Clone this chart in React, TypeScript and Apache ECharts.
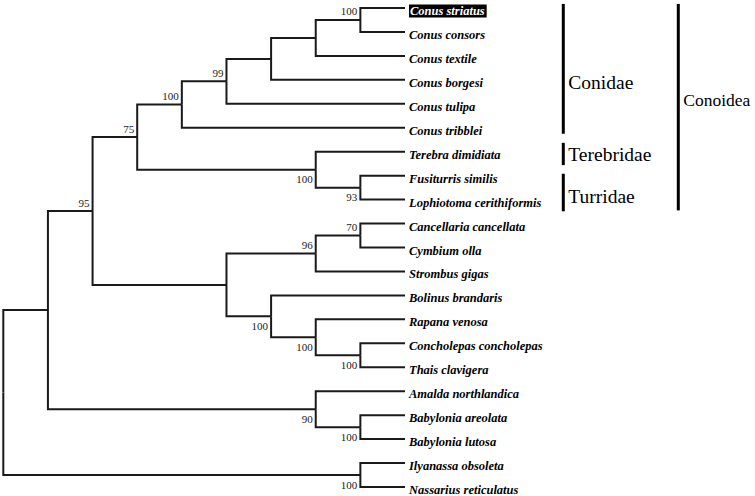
import React, { useEffect, useRef } from "react";
import * as echarts from "echarts";

// Taxa, top to bottom
const leafNames = [
  "Conus striatus",
  "Conus consors",
  "Conus textile",
  "Conus borgesi",
  "Conus tulipa",
  "Conus tribblei",
  "Terebra dimidiata",
  "Fusiturris similis",
  "Lophiotoma cerithiformis",
  "Cancellaria cancellata",
  "Cymbium olla",
  "Strombus gigas",
  "Bolinus brandaris",
  "Rapana venosa",
  "Concholepas concholepas",
  "Thais clavigera",
  "Amalda northlandica",
  "Babylonia areolata",
  "Babylonia lutosa",
  "Ilyanassa obsoleta",
  "Nassarius reticulatus",
];

// Topology with bootstrap support (Newick)
const newick =
  "(((((((((Conus striatus,Conus consors)100,Conus textile),Conus borgesi),Conus tulipa)99,Conus tribblei)100," +
  "(Terebra dimidiata,(Fusiturris similis,Lophiotoma cerithiformis)93)100)75," +
  "(((Cancellaria cancellata,Cymbium olla)70,Strombus gigas)96," +
  "(Bolinus brandaris,(Rapana venosa,(Concholepas concholepas,Thais clavigera)100)100)100))95," +
  "(Amalda northlandica,(Babylonia areolata,Babylonia lutosa)100)90)," +
  "(Ilyanassa obsoleta,Nassarius reticulatus)100);";

const highlightedTaxa = ["Conus striatus"];

// Clade annotations (positions in leaf-row units)
const cladeNames = ["Conidae", "Terebridae", "Turridae", "Conoidea"];
const cladeStart = [-0.17, 5.63, 6.92, -0.17];
const cladeEnd = [5.25, 6.56, 8.49, 8.45];
const cladeLabelRow = [3.12, 6.12, 7.86, 3.83];
const cladeColumn = [0, 0, 0, 1];

type TNode = { name?: string; support?: string; children: TNode[]; h: number; y: number };

function parseNewick(s: string): TNode {
  let i = 0;
  const readLabel = () => {
    const st = i;
    while (i < s.length && !",();".includes(s[i])) i++;
    return s.slice(st, i).trim();
  };
  const node = (): TNode => {
    if (s[i] === "(") {
      i++;
      const children = [node()];
      while (s[i] === ",") {
        i++;
        children.push(node());
      }
      i++;
      const lab = readLabel();
      return { children, support: lab, h: 0, y: 0 };
    }
    return { name: readLabel(), children: [], h: 0, y: 0 };
  };
  return node();
}

function layout(n: TNode) {
  if (n.children.length === 0) {
    n.h = 0;
    n.y = leafNames.indexOf(n.name as string);
    return;
  }
  n.children.forEach(layout);
  n.h = Math.max(...n.children.map((c) => c.h)) + 1;
  n.y = n.children.reduce((a, c) => a + c.y, 0) / n.children.length;
}

const SERIF = "'Times New Roman', 'Liberation Serif', serif";

export default function App() {
  const ref = useRef<HTMLDivElement>(null);
  useEffect(() => {
    document.body.style.margin = "0";
    if (!ref.current) return;
    const chart = echarts.init(ref.current, undefined, { renderer: "svg" });

    const root = parseNewick(newick);
    layout(root);
    const edges: number[][] = [];
    const supports: { h: number; y: number; up: boolean; text: string }[] = [];
    const walk = (n: TNode, parent: TNode | null) => {
      if (parent) {
        edges.push([n.h, n.y, parent.h, parent.y]);
        if (n.support) supports.push({ h: n.h, y: n.y, up: n.y < parent.y, text: n.support });
      }
      n.children.forEach((c) => walk(c, n));
    };
    walk(root, null);
    const rootH = root.h;

    const cladeBarOffset = [158.3, 273.3];
    const cladeFont = [19.5, 17.5];

    chart.setOption({
      animation: false,
      backgroundColor: "#fff",
      grid: { left: 3.3, right: 350, top: 8, bottom: 9 },
      xAxis: { type: "value", inverse: true, min: 0, max: rootH, show: false },
      yAxis: { type: "value", inverse: true, min: 0, max: leafNames.length - 1, show: false },
      series: [
        {
          type: "custom",
          data: edges,
          renderItem: (_p: any, api: any) => {
            const c = api.coord([api.value(0), api.value(1)]);
            const corner = api.coord([api.value(2), api.value(1)]);
            const pv = api.coord([api.value(2), api.value(3)]);
            return {
              type: "polyline",
              shape: { points: [pv, corner, c] },
              style: { stroke: "#1a1a1a", lineWidth: 2, fill: null },
            };
          },
        },
        {
          type: "custom",
          data: leafNames.map((_, i) => [0, i]),
          renderItem: (p: any, api: any) => {
            const c = api.coord([api.value(0), api.value(1)]);
            const name = leafNames[p.dataIndex];
            const hl = highlightedTaxa.includes(name);
            return {
              type: "text",
              x: c[0] + 4,
              y: c[1] + 3,
              style: {
                text: name,
                fill: hl ? "#fff" : "#000",
                font: `italic bold 12.5px ${SERIF}`,
                lineHeight: 12,
                align: "left",
                verticalAlign: "middle",
                backgroundColor: hl ? "#000" : "transparent",
                padding: hl ? [1, 2, 0, 1] : 0,
              },
            };
          },
        },
        {
          type: "custom",
          data: supports.map((s) => [s.h, s.y]),
          renderItem: (p: any, api: any) => {
            const c = api.coord([api.value(0), api.value(1)]);
            const s = supports[p.dataIndex];
            return {
              type: "text",
              x: c[0] - 3,
              y: s.up ? c[1] - 3 : c[1] + 4,
              style: {
                text: s.text,
                fill: "#222",
                font: `11px ${SERIF}`,
                align: "right",
                verticalAlign: s.up ? "bottom" : "top",
              },
            };
          },
        },
        {
          type: "custom",
          data: cladeNames.map((_, i) => [0, cladeStart[i], cladeEnd[i], cladeLabelRow[i]]),
          renderItem: (p: any, api: any) => {
            const i = p.dataIndex;
            const col = cladeColumn[i];
            const top = api.coord([0, api.value(1)]);
            const bot = api.coord([0, api.value(2)]);
            const lab = api.coord([0, api.value(3)]);
            const bx = top[0] + cladeBarOffset[col];
            return {
              type: "group",
              children: [
                {
                  type: "line",
                  shape: { x1: bx, y1: top[1], x2: bx, y2: bot[1] },
                  style: { stroke: "#000", lineWidth: 3 },
                },
                {
                  type: "text",
                  x: bx + 5,
                  y: lab[1],
                  style: {
                    text: cladeNames[i],
                    fill: "#000",
                    font: `${cladeFont[col]}px ${SERIF}`,
                    align: "left",
                    verticalAlign: "middle",
                  },
                },
              ],
            };
          },
        },
      ],
    });
    return () => chart.dispose();
  }, []);
  return <div ref={ref} style={{ width: 755, height: 496 }} />;
}
